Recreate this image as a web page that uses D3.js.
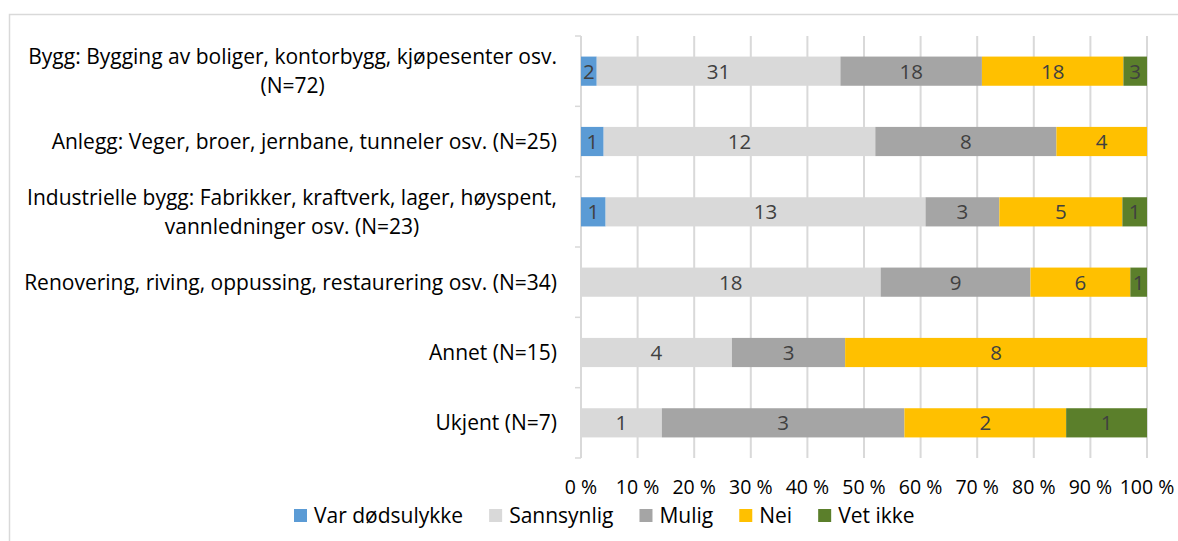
<!DOCTYPE html>
<html>
<head>
<meta charset="utf-8">
<script src="https://cdn.jsdelivr.net/npm/d3@7"></script>
<style>
  body { margin: 0; background: #fff; }
  text { font-family: "Open Sans", Lato, sans-serif; }
</style>
</head>
<body>
<div id="chart"></div>
<script>
// categories, top to bottom (each entry = lines of the label)
var categories = [
  ["Bygg: Bygging av boliger, kontorbygg, kjøpesenter osv.", "(N=72)"],
  ["Anlegg: Veger, broer, jernbane, tunneler osv. (N=25)"],
  ["Industrielle bygg: Fabrikker, kraftverk, lager, høyspent,", "vannledninger osv. (N=23)"],
  ["Renovering, riving, oppussing, restaurering osv. (N=34)"],
  ["Annet (N=15)"],
  ["Ukjent (N=7)"]
];

var seriesNames = ["Var dødsulykke", "Sannsynlig", "Mulig", "Nei", "Vet ikke"];
var seriesColors = ["#5b9bd5", "#d9d9d9", "#a5a5a5", "#ffc000", "#5b7f2b"];

// counts per category, one array per series
var varDodsulykke = [2, 1, 1, 0, 0, 0];
var sannsynlig    = [31, 12, 13, 18, 4, 1];
var mulig         = [18, 8, 3, 9, 3, 3];
var nei           = [18, 4, 5, 6, 8, 2];
var vetIkke       = [3, 0, 1, 1, 0, 1];

var tickValues = [0, 0.1, 0.2, 0.3, 0.4, 0.5, 0.6, 0.7, 0.8, 0.9, 1];

var W = 1178, H = 541;
var margin = {top: 36, left: 581, right: 31, bottom: 83};
var width = W - margin.left - margin.right,
    height = H - margin.top - margin.bottom;

var allSeries = [varDodsulykke, sannsynlig, mulig, nei, vetIkke];

var rows = categories.map(function(c, i) {
  var total = d3.sum(allSeries, function(s) { return s[i]; });
  var acc = 0;
  var segs = allSeries.map(function(s, j) {
    var seg = {series: j, value: s[i], x0: acc / total, x1: (acc + s[i]) / total};
    acc += s[i];
    return seg;
  });
  return {index: i, label: c, segs: segs};
});

var svg = d3.select("#chart").append("svg")
    .attr("width", W)
    .attr("height", H);

// outer chart border (top and left visible, rest cropped)
svg.append("rect")
    .attr("x", 9.5).attr("y", 14.5)
    .attr("width", W + 20).attr("height", H + 20)
    .attr("fill", "none")
    .attr("stroke", "#d9d9d9")
    .attr("stroke-width", 1.5);

var g = svg.append("g")
    .attr("transform", "translate(" + margin.left + "," + margin.top + ")");

var x = d3.scaleLinear().domain([0, 1]).range([0, width]);
var y = d3.scaleBand().domain(d3.range(categories.length)).range([0, height]).paddingInner(0.585).paddingOuter(0.2925);

// gridlines
g.selectAll(".grid")
    .data(tickValues)
    .enter().append("line")
    .attr("x1", function(d) { return x(d); })
    .attr("x2", function(d) { return x(d); })
    .attr("y1", 0).attr("y2", height)
    .attr("stroke", "#d9d9d9")
    .attr("stroke-width", 2);

// left category axis with ticks at band boundaries
var boundaries = d3.range(categories.length + 1).map(function(i) { return i * height / categories.length; });
g.append("line")
    .attr("x1", 0).attr("x2", 0).attr("y1", 0).attr("y2", height)
    .attr("stroke", "#d9d9d9").attr("stroke-width", 2);
g.selectAll(".ytick")
    .data(boundaries)
    .enter().append("line")
    .attr("x1", -6).attr("x2", 0)
    .attr("y1", function(d) { return d; })
    .attr("y2", function(d) { return d; })
    .attr("stroke", "#d9d9d9").attr("stroke-width", 1.5);

// bars
var rowG = g.selectAll(".row")
    .data(rows)
    .enter().append("g")
    .attr("transform", function(d) { return "translate(0," + y(d.index) + ")"; });

rowG.selectAll("rect")
    .data(function(d) { return d.segs.filter(function(s) { return s.value > 0; }); })
    .enter().append("rect")
    .attr("x", function(d) { return x(d.x0); })
    .attr("width", function(d) { return x(d.x1) - x(d.x0); })
    .attr("height", y.bandwidth())
    .attr("fill", function(d) { return seriesColors[d.series]; });

rowG.selectAll(".val")
    .data(function(d) { return d.segs.filter(function(s) { return s.value > 0; }); })
    .enter().append("text")
    .attr("x", function(d) { return (x(d.x0) + x(d.x1)) / 2; })
    .attr("y", y.bandwidth() / 2)
    .attr("dy", "0.36em")
    .attr("text-anchor", "middle")
    .attr("font-size", "20.5px")
    .attr("fill", "#404040")
    .text(function(d) { return d.value; });

// category labels (centered block, right aligned to axis)
var labelRight = -24;
var lineGap = 29;
rows.forEach(function(r) {
  var t = g.append("text")
      .attr("font-size", "21px")
      .attr("fill", "#000")
      .attr("text-anchor", "middle");
  var spans = r.label.map(function(line, k) {
    return t.append("tspan")
        .attr("y", y(r.index) + y.bandwidth() / 2 + (k - (r.label.length - 1) / 2) * lineGap)
        .attr("dy", "0.36em")
        .text(line);
  });
  var maxW = d3.max(spans, function(s) { return s.node().getComputedTextLength(); });
  spans.forEach(function(s) { s.attr("x", labelRight - maxW / 2); });
});

// x axis labels
g.selectAll(".xlab")
    .data(tickValues)
    .enter().append("text")
    .attr("x", function(d) { return x(d); })
    .attr("y", height + 29)
    .attr("dy", "0.36em")
    .attr("text-anchor", "middle")
    .attr("font-size", "19.5px")
    .attr("fill", "#000")
    .text(function(d) { return Math.round(d * 100) + " %"; });

// legend
var legend = svg.append("g").attr("transform", "translate(0,516)");
var lx = 294;
seriesNames.forEach(function(name, i) {
  legend.append("rect")
      .attr("x", lx).attr("y", -7)
      .attr("width", 13).attr("height", 13)
      .attr("fill", seriesColors[i]);
  var t = legend.append("text")
      .attr("x", lx + 20)
      .attr("dy", "0.34em")
      .attr("font-size", "21px")
      .attr("fill", "#000")
      .text(name);
  lx += 20 + t.node().getComputedTextLength() + 26;
});
</script>
</body>
</html>
